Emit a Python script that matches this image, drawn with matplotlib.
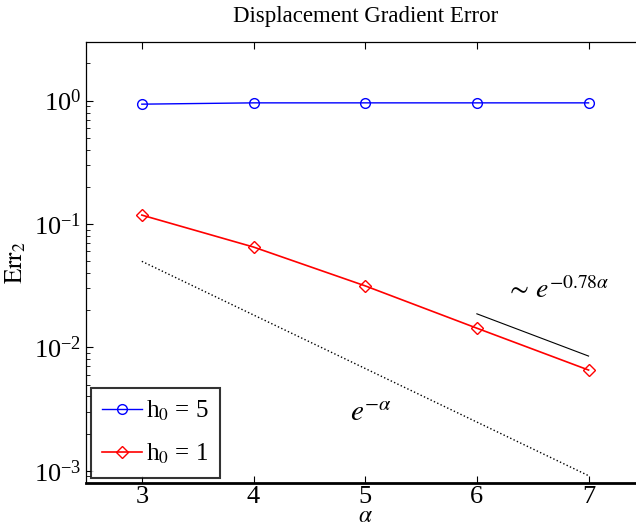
import numpy as np
import matplotlib
matplotlib.use("Agg")
import matplotlib.pyplot as plt
from matplotlib.ticker import LogLocator, NullFormatter

plt.rcParams['font.family'] = ['Liberation Serif', 'DejaVu Serif']
plt.rcParams['mathtext.fontset'] = 'stix'

alpha = [3, 4, 5, 6, 7]
err_h5 = [0.935, 0.958, 0.958, 0.958, 0.958]
err_h1 = [0.118, 0.065, 0.0315, 0.0143, 0.00655]
ref_exp = [0.0498, 0.0183, 0.00674, 0.00248, 0.000912]  # e^-alpha
slope_x = [6, 7]
slope_y = [0.0187, 0.0085]

fig = plt.figure(figsize=(6.36, 5.29), dpi=100)
ax = fig.add_axes([0.1352, 0.0875, 0.878, 0.8337])

ax.semilogy(alpha, err_h5, '-o', color='blue', lw=1.0, ms=7, mfc='none', mew=1.0, label='h$_0$ = 5')
ax.semilogy(alpha, err_h1, '-D', color='red', lw=1.2, ms=6, mfc='none', mew=1.0, label='h$_0$ = 1')
ax.semilogy(alpha, ref_exp, ':', color='black', lw=1.0)
ax.semilogy(slope_x, slope_y, '-', color='black', lw=0.8)

ax.text(6.25, 0.0225, r'$\sim\, e^{-0.78\alpha}$', fontsize=20, ha='left', va='bottom')
ax.text(4.86, 0.00225, r'$e^{-\alpha}$', fontsize=21, ha='left', va='bottom')

ax.set_xlim(2.5, 7.5)
ax.set_ylim(8e-4, 3)
ax.set_xticks(alpha)
ax.yaxis.set_major_locator(LogLocator(base=10, numticks=10))
ax.yaxis.set_minor_locator(LogLocator(base=10, subs=np.arange(2, 10), numticks=20))
ax.yaxis.set_minor_formatter(NullFormatter())
ax.tick_params(which='both', direction='in', top=True, right=True, labelsize=19)
ax.tick_params(which='major', length=5, width=0.8)
ax.tick_params(which='minor', length=3, width=0.6)
ax.tick_params(axis='x', pad=2.5)
ax.spines['bottom'].set_linewidth(2)
for s in ['top', 'left', 'right']:
    ax.spines[s].set_linewidth(0.9)

ax.set_title('Displacement Gradient Error', fontsize=16.5, pad=14)
ax.set_xlabel(r'$\alpha$', fontsize=17, labelpad=-1.5)
ax.set_ylabel(r'$\mathrm{Err}_2$', fontsize=18, labelpad=4)

leg = ax.legend(loc='lower left', fontsize=18, frameon=True, fancybox=False,
                edgecolor='black', handlelength=1.6, borderpad=0.45,
                labelspacing=0.75, handletextpad=0.15, borderaxespad=0.2)
leg.get_frame().set_linewidth(1.5)

fig.savefig('out.png', dpi=100)
